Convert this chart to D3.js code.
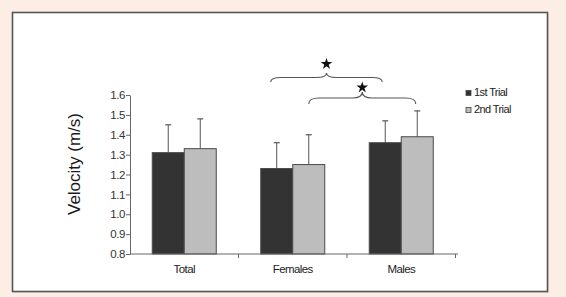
<!DOCTYPE html>
<html><head><meta charset="utf-8">
<script src="https://cdn.jsdelivr.net/npm/d3@7"></script>
<style>
html,body{margin:0;padding:0;background:#fdeee5;}
svg{display:block;font-family:"Liberation Sans",Arial,sans-serif;}
</style></head>
<body><svg id="c" width="566" height="297"></svg>
<script>
const categories = ["Total", "Females", "Males"];
const series = ["1st Trial", "2nd Trial"];
const trial1 = [1.31, 1.23, 1.36];
const trial2 = [1.33, 1.25, 1.39];
const trial1Err = [0.14, 0.13, 0.11];
const trial2Err = [0.15, 0.15, 0.13];
const yTicks = [0.8, 0.9, 1.0, 1.1, 1.2, 1.3, 1.4, 1.5, 1.6];
const colors = ["#333333", "#bdbdbd"];

const svg = d3.select("#c");
// panel
svg.append("rect").attr("x", 14).attr("y", 14).attr("width", 535).attr("height", 279).attr("fill", "#e9ddd5");
svg.append("rect").attr("x", 12.5).attr("y", 12.5).attr("width", 535).attr("height", 279)
  .attr("fill", "#fff").attr("stroke", "#555").attr("stroke-width", 1.6);

const x0 = d3.scaleBand().domain(categories).range([130, 455.5]).paddingInner(0.41).paddingOuter(0.205);
const x1 = d3.scaleBand().domain(series).range([0, x0.bandwidth()]);
const y = d3.scaleLinear().domain([0.8, 1.6]).range([254, 95]);

const vals = [trial1, trial2];
const errs = [trial1Err, trial2Err];
const cx = (c, s) => x0(c) + x1(s) + x1.bandwidth() / 2;

// bars
const data = [];
categories.forEach((c, i) => series.forEach((s, j) => data.push({c, s, j, v: vals[j][i], e: errs[j][i]})));

const g = svg.append("g");
g.selectAll(".err").data(data).join("line")
  .attr("x1", d => cx(d.c, d.s)).attr("x2", d => cx(d.c, d.s))
  .attr("y1", d => y(d.v)).attr("y2", d => y(d.v + d.e))
  .attr("stroke", "#555").attr("stroke-width", 1);
g.selectAll(".cap").data(data).join("line")
  .attr("x1", d => cx(d.c, d.s) - 3).attr("x2", d => cx(d.c, d.s) + 3)
  .attr("y1", d => y(d.v + d.e)).attr("y2", d => y(d.v + d.e))
  .attr("stroke", "#555").attr("stroke-width", 1.2);
g.selectAll(".bar").data(data).join("rect")
  .attr("x", d => x0(d.c) + x1(d.s))
  .attr("width", x1.bandwidth())
  .attr("y", d => y(d.v))
  .attr("height", d => y(0.8) - y(d.v))
  .attr("fill", d => colors[d.j])
  .attr("stroke", "#4a4a4a").attr("stroke-width", 1);

// y axis
const yAxis = d3.axisLeft(y).tickValues(yTicks).tickFormat(d3.format(".1f")).tickSize(4).tickSizeOuter(0);
const ya = svg.append("g").attr("transform", "translate(130,0)").call(yAxis);
ya.select(".domain").attr("stroke", "#666");
ya.selectAll(".tick line").attr("stroke", "#666");
ya.selectAll(".tick text").attr("fill", "#333").attr("font-size", 11.5).attr("x", -5).attr("letter-spacing", -0.4)
  .attr("font-family", "'Liberation Sans',Arial,sans-serif");

// x axis
const xa = svg.append("g").attr("transform", "translate(0,254)");
xa.append("line").attr("x1", 130).attr("x2", 458).attr("stroke", "#666");
const bounds = [130 + x0.step(), 130 + 2 * x0.step(), 130 + 3 * x0.step()];
xa.selectAll(".xt").data(bounds).join("line")
  .attr("x1", d => d).attr("x2", d => d).attr("y1", 0).attr("y2", 4).attr("stroke", "#666");
xa.selectAll(".xl").data(categories).join("text")
  .attr("x", d => x0(d) + x0.bandwidth()/2).attr("y", 19)
  .attr("text-anchor", "middle").attr("font-size", 11.5).attr("letter-spacing", -0.6).attr("fill", "#222")
  .text(d => d);

// y label
svg.append("text").attr("transform", "translate(80,164) rotate(-90)")
  .attr("text-anchor", "middle").attr("font-size", 17).attr("fill", "#1a1a1a")
  .text("Velocity (m/s)");

// legend
const lg = svg.append("g");
series.forEach((s, j) => {
  lg.append("rect").attr("x", 466).attr("y", 90.5 + j * 17).attr("width", 5).attr("height", 5)
    .attr("fill", colors[j]).attr("stroke", "#444").attr("stroke-width", 0.8);
  lg.append("text").attr("x", 474).attr("y", 96 + j * 17).attr("font-size", 11).attr("letter-spacing", -0.6)
    .attr("fill", "#222").text(s);
});

// significance braces
function brace(xa, xb, yFlat, yEnd, yPeak) {
  const xm = (xa + xb) / 2;
  const r = 5;
  return `M${xa},${yEnd} Q${xa},${yFlat} ${xa + r * 2},${yFlat} L${xm - r * 2},${yFlat} Q${xm},${yFlat} ${xm},${yPeak}` +
         ` Q${xm},${yFlat} ${xm + r * 2},${yFlat} L${xb - r * 2},${yFlat} Q${xb},${yFlat} ${xb},${yEnd}`;
}
const br = [
  {a: cx("Females", "1st Trial") - 6, b: cx("Males", "1st Trial") - 3, flat: 77.5, end: 82, peak: 73, star: 64},
  {a: cx("Females", "2nd Trial"), b: cx("Males", "2nd Trial") - 1.5, flat: 98, end: 104, peak: 92, star: 87.5}
];
br.forEach(d => {
  svg.append("path").attr("d", brace(d.a, d.b, d.flat, d.end, d.peak))
    .attr("fill", "none").attr("stroke", "#555").attr("stroke-width", 1.1);
  svg.append("path").attr("d", d3.symbol(d3.symbolStar, 42)())
    .attr("transform", `translate(${(d.a + d.b) / 2},${d.star})`).attr("fill", "#111");
});
</script></body></html>
